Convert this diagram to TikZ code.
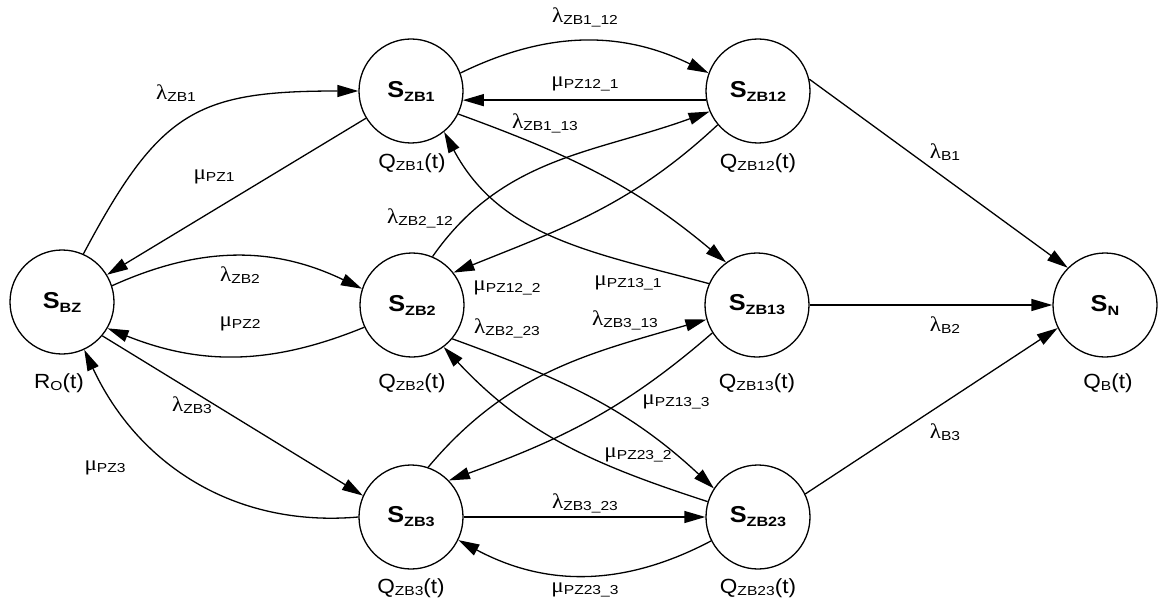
\documentclass[tikz,border=0pt]{standalone}
\usepackage{fontspec}
\setmainfont{Liberation Sans}
\usetikzlibrary{arrows.meta}
\newfontfamily\mainf[FakeStretch=1.1]{Liberation Sans}
\newfontfamily\subf[FakeStretch=1.2]{Liberation Sans}
\newfontfamily\grf[FakeStretch=1.1]{Liberation Serif}
\newcommand{\stlbl}[1]{{\fontsize{23}{23}\selectfont\mainf\bfseries S}\raisebox{-4pt}{\fontsize{13.5}{13.5}\selectfont\subf\bfseries #1}}
\newcommand{\qlbl}[2]{{\fontsize{20.5}{20.5}\selectfont\mainf #1}\raisebox{-2pt}{\fontsize{13}{13}\selectfont\subf #2}{\fontsize{20.5}{20.5}\selectfont\mainf (t)}}
\newcommand{\rlbl}[2]{{\fontsize{21}{21}\selectfont\grf #1}\raisebox{-2pt}{\fontsize{13}{13}\selectfont\subf #2}}
\begin{document}
\begin{tikzpicture}[x=1pt,y=1pt,
  state/.style={circle,draw,line width=1.3pt,minimum size=104pt,inner sep=0pt},
  edge/.style={line width=1.3pt,-{Triangle[length=21pt,width=12pt]}},
  lbl/.style={inner sep=0pt}]
\useasboundingbox (0,0) rectangle (1158,-604);
% states
\node[state] (BZ)   at (62,-302)  {\stlbl{BZ}};
\node[state] (ZB1)  at (411,-91)  {\stlbl{ZB1}};
\node[state] (ZB12) at (758,-91)  {\stlbl{ZB12}};
\node[state] (ZB2)  at (412,-305) {\stlbl{ZB2}};
\node[state] (ZB13) at (757,-305) {\stlbl{ZB13}};
\node[state] (N)    at (1105,-305){\stlbl{N}};
\node[state] (ZB3)  at (411,-517) {\stlbl{ZB3}};
\node[state] (ZB23) at (758,-517) {\stlbl{ZB23}};
% state captions
\node[lbl] (qBZ)   at (59,-383)   {\qlbl{R}{O}};
\node[lbl] (qZB1)  at (412,-163)  {\qlbl{Q}{ZB1}};
\node[lbl] (qZB12) at (758,-163)  {\qlbl{Q}{ZB12}};
\node[lbl] (qZB2)  at (412,-383)  {\qlbl{Q}{ZB2}};
\node[lbl] (qZB13) at (757,-383)  {\qlbl{Q}{ZB13}};
\node[lbl] (qN)    at (1108,-383) {\qlbl{Q}{B}};
\node[lbl] (qZB3)  at (411,-588)  {\qlbl{Q}{ZB3}};
\node[lbl] (qZB23) at (758,-588)  {\qlbl{Q}{ZB23}};
% transitions
\draw[edge] (BZ.66) to[out=62,in=180,looseness=1.3] (ZB1.180);
\draw[edge] (ZB1) -- (BZ);
\draw[edge] (BZ.18) to[bend left=25] (ZB2.162);
\draw[edge] (ZB2.205) to[bend left=22] (BZ.-30);
\draw[edge] (BZ.-40) -- (ZB3.156);
\draw[edge] (ZB3.180) to[out=185,in=-65] (BZ.-65);
\draw[edge] (ZB1.20) to[bend left=26] (ZB12.160);
\draw[edge] (ZB12.190) -- (ZB1.-10);
\draw[edge] (ZB1.-26) to[out=-20,in=140] (ZB13.126);
\draw[edge] (ZB13.156) to[out=165,in=-62] (ZB1.-51);
\draw[edge] (ZB2.67) to[out=55,in=200] (ZB12.-157);
\draw[edge] (ZB12.-140) to[out=-137,in=22] (ZB2.38);
\draw[edge] (ZB2.-40) to[out=-20,in=137] (ZB23.147);
\draw[edge] (ZB23.163) to[out=162,in=-47] (ZB2.-53);
\draw[edge] (ZB3.71) to[out=50,in=196] (ZB13.-164);
\draw[edge] (ZB13.-148) to[out=-139,in=20] (ZB3.44);
\draw[edge] (ZB3) -- (ZB23);
\draw[edge] (ZB23.-153) to[bend left=28] (ZB3.-26);
\draw[edge] (ZB12.13) -- (N.135);
\draw[edge] (ZB13) -- (N);
\draw[edge] (ZB23.26) -- (N.-154);
% rate labels
\node[lbl] (r1)  at (176,-93)  {\rlbl{λ}{ZB1}};
\node[lbl] (r2)  at (214,-177) {\rlbl{μ}{PZ1}};
\node[lbl] (r3)  at (240,-275) {\rlbl{λ}{ZB2}};
\node[lbl] (r4)  at (240,-324) {\rlbl{μ}{PZ2}};
\node[lbl] (r5)  at (192,-405) {\rlbl{λ}{ZB3}};
\node[lbl] (r6)  at (105,-468) {\rlbl{μ}{PZ3}};
\node[lbl] (r7)  at (585,-17)  {\rlbl{λ}{ZB1\_12}};
\node[lbl] (r8)  at (585,-84)  {\rlbl{μ}{PZ12\_1}};
\node[lbl] (r9)  at (545,-123) {\rlbl{λ}{ZB1\_13}};
\node[lbl] (r10) at (420,-218) {\rlbl{λ}{ZB2\_12}};
\node[lbl] (r11) at (507,-288) {\rlbl{μ}{PZ12\_2}};
\node[lbl] (r12) at (507,-328) {\rlbl{λ}{ZB2\_23}};
\node[lbl] (r13) at (628,-283) {\rlbl{μ}{PZ13\_1}};
\node[lbl] (r14) at (625,-320) {\rlbl{λ}{ZB3\_13}};
\node[lbl] (r15) at (676,-402) {\rlbl{μ}{PZ13\_3}};
\node[lbl] (r16) at (638,-455) {\rlbl{μ}{PZ23\_2}};
\node[lbl] (r17) at (585,-503) {\rlbl{λ}{ZB3\_23}};
\node[lbl] (r18) at (585,-590) {\rlbl{μ}{PZ23\_3}};
\node[lbl] (r19) at (945,-152) {\rlbl{λ}{B1}};
\node[lbl] (r20) at (945,-325) {\rlbl{λ}{B2}};
\node[lbl] (r21) at (945,-432) {\rlbl{λ}{B3}};
\end{tikzpicture}
\end{document}
